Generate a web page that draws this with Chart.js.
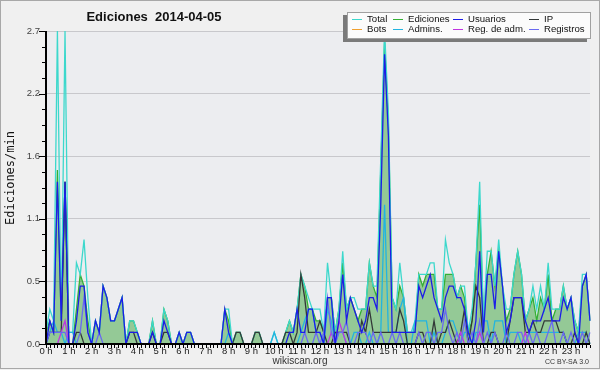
<!DOCTYPE html>
<html>
<head>
<meta charset="utf-8">
<title>Ediciones 2014-04-05</title>
<script src="https://cdn.jsdelivr.net/npm/chart.js@4.4.1/dist/chart.umd.min.js"></script>
<style>
  html, body { margin: 0; padding: 0; background: #f0f0f0; }
  #wrap { width: 600px; height: 370px; }
</style>
</head>
<body>
<div id="wrap"><canvas id="editsChart" width="600" height="370"></canvas></div>
<script>
var chartTitle = 'Ediciones  2014-04-05';
var yTitle = 'Ediciones/min';
var hourLabels = ['0 h','1 h','2 h','3 h','4 h','5 h','6 h','7 h','8 h','9 h','10 h','11 h',
                  '12 h','13 h','14 h','15 h','16 h','17 h','18 h','19 h','20 h','21 h','22 h','23 h'];
var yMajorTicks = [0, 0.54, 1.08, 1.62, 2.16, 2.7];

// one value per 10 minutes, one row per hour
var total = [
  0.1,0.3,0.2,2.7,0.2,2.7,  0.1,0.1,0.7,0.6,0.9,0.4,  0,0.2,0.1,0.5,0.4,0.2,  0.2,0.3,0.4,0,0.2,0.2,
  0.1,0,0,0,0.2,0,  0,0.3,0.2,0,0,0.1,  0,0.1,0.1,0,0,0,  0,0,0,0,0,0.3,
  0.3,0,0.1,0.1,0,0,  0,0.1,0.1,0,0,0,  0.1,0,0,0.1,0.2,0.1,  0.3,0.6,0.5,0.4,0.3,0.3,
  0.3,0.1,0.7,0.4,0.1,0.3,  0.8,0.3,0.4,0.4,0.3,0.3,  0.3,0.7,0.5,0.5,1.6,2.7,  2.0,0.4,0.3,0.7,0.4,0.1,
  0.1,0.2,0.6,0.6,0.6,0.7,  0.7,0.3,0.3,0.9,0.7,0.6,  0.4,0.5,0.5,0.1,0.3,0.7,  1.4,0.2,0.8,0.8,0.5,0.9,
  0.5,0.3,0.3,0.6,0.8,0.6,  0.2,0.3,0.5,0.3,0.5,0.3,  0.7,0.3,0.3,0.3,0.5,0.3,  0.4,0.2,0.1,0.6,0.6,0.2
];
var ediciones = [
  0.1,0.2,0.1,1.5,0.2,1.4,  0,0,0.3,0.6,0.5,0.2,  0,0.2,0.1,0.5,0.4,0.2,  0.2,0.3,0.4,0,0.2,0.2,
  0.1,0,0,0,0.2,0,  0,0.3,0.2,0,0,0.1,  0,0.1,0.1,0,0,0,  0,0,0,0,0,0.3,
  0.2,0,0.1,0.1,0,0,  0,0.1,0.1,0,0,0,  0,0,0,0.1,0.2,0.1,  0.3,0.6,0.5,0.3,0.3,0.2,
  0.2,0.1,0.4,0.4,0.1,0.3,  0.7,0.3,0.4,0.3,0.2,0.3,  0.3,0.7,0.5,0.4,1.5,2.6,  1.9,0.4,0.3,0.5,0.4,0.1,
  0.1,0.1,0.6,0.5,0.6,0.6,  0.6,0.3,0.3,0.6,0.6,0.6,  0.4,0.5,0.4,0.1,0.2,0.7,  1.2,0.2,0.6,0.8,0.5,0.8,
  0.5,0.2,0.3,0.6,0.8,0.6,  0.2,0.3,0.4,0.2,0.4,0.3,  0.6,0.2,0.3,0.3,0.5,0.3,  0.4,0.2,0.1,0.5,0.6,0.2
];
var usuarios = [
  0,0.2,0.1,1.4,0.2,1.4,  0,0,0.2,0.5,0.5,0.1,  0,0.2,0.1,0.5,0.4,0.2,  0.2,0.3,0.4,0,0.1,0.1,
  0.1,0,0,0,0.1,0,  0,0.2,0.1,0,0,0.1,  0,0.1,0.1,0,0,0,  0,0,0,0,0,0.3,
  0.1,0,0,0,0,0,  0,0,0,0,0,0,  0,0,0,0,0.1,0.1,  0.3,0.1,0.1,0.3,0.3,0.1,
  0.1,0,0.4,0.4,0,0.2,  0.6,0.2,0.4,0.3,0.2,0.1,  0.2,0.4,0.4,0.3,1.2,2.5,  1.8,0.1,0.1,0.1,0.1,0.1,
  0.1,0.1,0.5,0.4,0.5,0.6,  0.4,0.3,0.2,0.4,0.5,0.5,  0.4,0.4,0.3,0.1,0,0.2,  0.8,0.1,0.6,0.6,0.3,0.8,
  0.5,0.1,0.2,0.4,0.4,0.4,  0.2,0.1,0.2,0.2,0.2,0.3,  0.4,0.2,0.2,0.2,0.4,0.3,  0.4,0.1,0,0.5,0.6,0.2
];
var ip = [
  0,0.1,0.1,0.1,0.1,1.4,  0,0,0.1,0.1,0,0,  0,0,0,0,0,0,  0,0,0,0,0.1,0.1,
  0,0,0,0,0.1,0,  0,0.1,0.1,0,0,0,  0,0,0,0,0,0,  0,0,0,0,0,0,
  0,0,0.1,0.1,0,0,  0,0.1,0.1,0,0,0,  0,0,0,0.1,0.1,0,  0.1,0.6,0.4,0.1,0.1,0.1,
  0.2,0.1,0,0,0.1,0.1,  0.1,0.1,0,0,0,0.2,  0.1,0.3,0.1,0.1,0.1,0.1,  0.1,0.1,0.1,0.3,0.2,0,
  0,0,0.1,0.1,0,0,  0.2,0,0.1,0.1,0.2,0.1,  0,0.1,0.3,0,0.2,0.5,  0.4,0,0,0.1,0.1,0,
  0,0,0.2,0.4,0.4,0.4,  0.1,0.1,0.2,0.1,0.1,0.2,  0.2,0.2,0.2,0.1,0.1,0,  0,0.1,0,0,0.1,0
];
var bots = [
  0,0,0,0,0,0,  0,0,0,0,0,0,  0,0,0,0,0,0,  0,0,0,0,0,0,
  0,0,0,0,0,0,  0,0,0,0,0,0,  0,0,0,0,0,0,  0,0,0,0,0,0,
  0,0,0,0,0,0,  0,0,0,0,0,0,  0,0,0,0,0,0,  0,0,0,0,0,0,
  0,0,0,0,0,0,  0,0,0,0,0,0,  0,0,0,0,0,0,  0,0,0,0,0,0,
  0,0,0,0,0,0,  0,0,0,0,0,0,  0,0,0,0,0,0,  0,0,0,0,0,0,
  0,0,0,0,0,0,  0,0,0,0,0,0,  0,0,0,0,0,0,  0,0,0,0,0,0
];
var admins = [
  0,0.1,0.2,0.1,0.1,0,  0.1,0.1,0,0,0,0,  0,0,0,0,0,0,  0,0,0,0,0,0,
  0,0,0,0,0,0,  0,0,0,0,0,0,  0,0,0,0,0,0,  0,0,0,0,0,0,
  0.1,0,0,0,0,0,  0,0,0,0,0,0,  0.1,0,0,0,0,0,  0,0.1,0.2,0.3,0.3,0.1,
  0.1,0,0.3,0.2,0,0.1,  0.1,0,0,0.1,0.1,0,  0,0.1,0,0,0.1,1.2,  0.1,0.1,0.1,0.3,0.4,0,
  0,0.2,0.2,0.2,0.2,0,  0.1,0,0,0.1,0.2,0.2,  0.1,0,0.1,0.1,0,0.1,  0.1,0.2,0.2,0,0.2,0.2,
  0.2,0,0.1,0.1,0.1,0,  0,0.1,0.1,0.1,0.1,0.1,  0.1,0.1,0.1,0.1,0.1,0,  0,0,0.1,0.1,0.1,0
];
var regAdm = [
  0,0,0,0,0.1,0.2,  0,0,0,0,0,0,  0,0,0,0,0,0,  0,0,0,0,0,0,
  0,0,0,0,0,0,  0,0,0,0,0,0,  0,0,0,0,0,0,  0,0,0,0,0,0,
  0,0,0,0,0,0,  0,0,0,0,0,0,  0,0,0,0,0,0,  0,0,0,0,0,0,
  0,0,0,0.1,0,0.2,  0.1,0,0,0,0,0,  0,0,0,0,0,0,  0,0,0,0,0,0,
  0,0,0,0,0,0,  0,0,0,0,0,0,  0,0.1,0,0,0,0,  0.1,0,0,0,0,0,
  0,0,0,0,0,0,  0.1,0,0,0,0,0,  0,0,0,0,0,0,  0,0,0,0,0,0
];
var registros = [
  0,0.1,0.1,0.1,0.1,0.1,  0,0,0,0.1,0.4,0.1,  0,0,0.1,0,0,0,  0,0,0,0,0,0,
  0,0,0,0,0,0,  0,0,0,0,0,0,  0,0,0,0,0,0,  0,0,0,0,0,0,
  0,0,0,0,0,0,  0,0,0,0,0,0,  0,0,0,0,0,0,  0,0,0.1,0,0,0.1,
  0,0.1,0.4,0.1,0,0.1,  0.1,0.2,0,0,0.1,0.1,  0.1,0,0.1,0,0.1,0,  0,0.1,0,0.1,0,0,
  0,0,0.1,0,0.1,0.1,  0,0.1,0.1,0.3,0.1,0,  0.1,0,0.2,0,0.1,0,  0.2,0,0.1,0,0.1,0,
  0,0.1,0,0,0.1,0.1,  0,0.1,0,0.1,0,0,  0.1,0.2,0,0,0.1,0,  0.1,0,0,0.1,0,0.1
];

// 10 minute slots of the day
var slots = [];
for (var h = 0; h < 24; h++) {
  for (var m = 0; m < 60; m += 10) {
    slots.push(h + ':' + (m < 10 ? '0' : '') + m);
  }
}

function make_line(label, data, color, order) {
  return {
    label: label,
    data: data,
    borderColor: color,
    backgroundColor: color,
    borderWidth: 1.3,
    pointRadius: 0,
    tension: 0,
    fill: false,
    order: order
  };
}

var edDataset = make_line('Ediciones', ediciones, '#34b034', 10);
edDataset.fill = 'origin';
edDataset.backgroundColor = 'rgba(52,160,52,0.48)';

var datasets = [
  make_line('Total', total, '#3cd8cc', 9),
  edDataset,
  make_line('Usuarios', usuarios, '#1c1ce8', 2),
  make_line('IP', ip, '#333838', 5),
  make_line('Bots', bots, '#f0a030', 8),
  make_line('Admins.', admins, '#22b4e0', 6),
  make_line('Reg. de adm.', regAdm, '#c034e0', 4),
  make_line('Registros', registros, '#6a6af0', 3)
];

// frame, axes, title, legend and footer
var decor = {
  id: 'decor',
  beforeDraw: function (chart) {
    var c = chart.ctx, a = chart.chartArea;
    c.save();
    c.fillStyle = '#f0f0f0';
    c.fillRect(0, 0, chart.width, chart.height);
    c.fillStyle = '#ecedf0';
    c.fillRect(a.left, a.top, a.right - a.left, a.bottom - a.top);
    c.restore();
  },
  afterDraw: function (chart) {
    var c = chart.ctx, a = chart.chartArea;
    var xs = chart.scales.x, ys = chart.scales.y;
    c.save();
    c.fillStyle = '#000';
    c.fillRect(a.left - 1, a.top, 2, a.bottom - a.top + 1);
    c.fillRect(a.left - 1, a.bottom - 1, a.right - a.left + 1, 2);
    for (var i = 0; i < xs.ticks.length; i++) {
      var px = Math.round(xs.getPixelForTick(i));
      c.fillRect(px, a.bottom + 1, 1, 3);
    }
    ys.ticks.forEach(function (t, k) {
      var py = Math.round(ys.getPixelForValue(t.value));
      var len = (k % 4 === 0) ? 6 : 3;
      c.fillRect(a.left - 1 - len, py, len, 1);
    });

    // title
    c.fillStyle = '#111';
    c.font = 'bold 13px "Liberation Sans"';
    c.textAlign = 'center';
    c.textBaseline = 'alphabetic';
    c.fillText(chartTitle, 154, 21);

    // y axis title
    c.save();
    c.translate(11, 178);
    c.rotate(-Math.PI / 2);
    c.font = '12px "DejaVu Sans Mono"';
    c.textBaseline = 'middle';
    c.fillText(yTitle, 0, 0);
    c.restore();

    // footer
    c.fillStyle = '#333';
    c.font = '10px "Liberation Sans"';
    c.textAlign = 'center';
    c.fillText('wikiscan.org', 300, 364);
    c.font = '7px "Liberation Sans"';
    c.textAlign = 'right';
    c.fillText('CC BY-SA 3.0', 589, 364);

    // legend box with shadow
    var lx = 347, ly = 12, lw = 244, lh = 27;
    c.fillStyle = '#7a7a7a';
    c.fillRect(lx - 4, ly + 3, lw, lh);
    c.fillStyle = '#fbfbfb';
    c.fillRect(lx, ly, lw, lh);
    c.strokeStyle = '#a0a0a0';
    c.lineWidth = 1;
    c.strokeRect(lx + 0.5, ly + 0.5, lw - 1, lh - 1);
    var colX = [352, 393, 453, 529];
    chart.data.datasets.forEach(function (ds, k) {
      var x = colX[k % 4], y = 19 + 10 * Math.floor(k / 4);
      c.strokeStyle = ds.borderColor;
      c.beginPath();
      c.moveTo(x, y + 0.5);
      c.lineTo(x + 10, y + 0.5);
      c.stroke();
      c.fillStyle = '#111';
      c.textAlign = 'left';
      c.textBaseline = 'middle';
      c.font = '9.6px "Liberation Sans"';
      c.fillText(ds.label, x + 15, y + 0.5);
    });

    // outer frame
    c.strokeStyle = '#a8a8a8';
    c.strokeRect(0.5, 0.5, 599, 368);
    c.restore();
  }
};

var ctx = document.getElementById('editsChart').getContext('2d');
var editsChart = new Chart(ctx, {
  type: 'line',
  data: { labels: slots, datasets: datasets },
  plugins: [decor],
  options: {
    responsive: false,
    animation: false,
    devicePixelRatio: 1,
    layout: { padding: { top: 31, right: 10, left: 0, bottom: 0 } },
    plugins: {
      legend: { display: false },
      tooltip: { enabled: false }
    },
    scales: {
      x: {
        type: 'category',
        offset: false,
        grid: { drawOnChartArea: false, drawTicks: false },
        border: { display: false },
        afterFit: function (scale) { scale.height = 26; },
        ticks: {
          autoSkip: false,
          maxRotation: 0,
          padding: 2,
          color: '#222',
          font: { family: 'Liberation Sans', size: 9.5 },
          callback: function (value, index) {
            return index % 6 === 0 ? hourLabels[index / 6] : '';
          }
        }
      },
      y: {
        min: 0,
        max: 2.7,
        border: { display: false },
        afterFit: function (scale) { scale.width = 46; },
        afterBuildTicks: function (scale) {
          var t = [];
          for (var k = 0; k < yMajorTicks.length; k++) {
            t.push({ value: yMajorTicks[k] });
            if (k < yMajorTicks.length - 1) {
              var step = (yMajorTicks[k + 1] - yMajorTicks[k]) / 4;
              for (var j = 1; j < 4; j++) t.push({ value: yMajorTicks[k] + j * step });
            }
          }
          scale.ticks = t;
        },
        grid: {
          drawTicks: false,
          color: function (c) {
            return (c.index % 4 === 0 && c.index > 0) ? '#c8c8cc' : 'rgba(0,0,0,0)';
          }
        },
        ticks: {
          padding: 6,
          color: '#444',
          font: { family: 'Liberation Sans', size: 9.5 },
          callback: function (value, index) {
            return index % 4 === 0 ? value.toFixed(1) : '';
          }
        }
      }
    }
  }
});
</script>
</body>
</html>
